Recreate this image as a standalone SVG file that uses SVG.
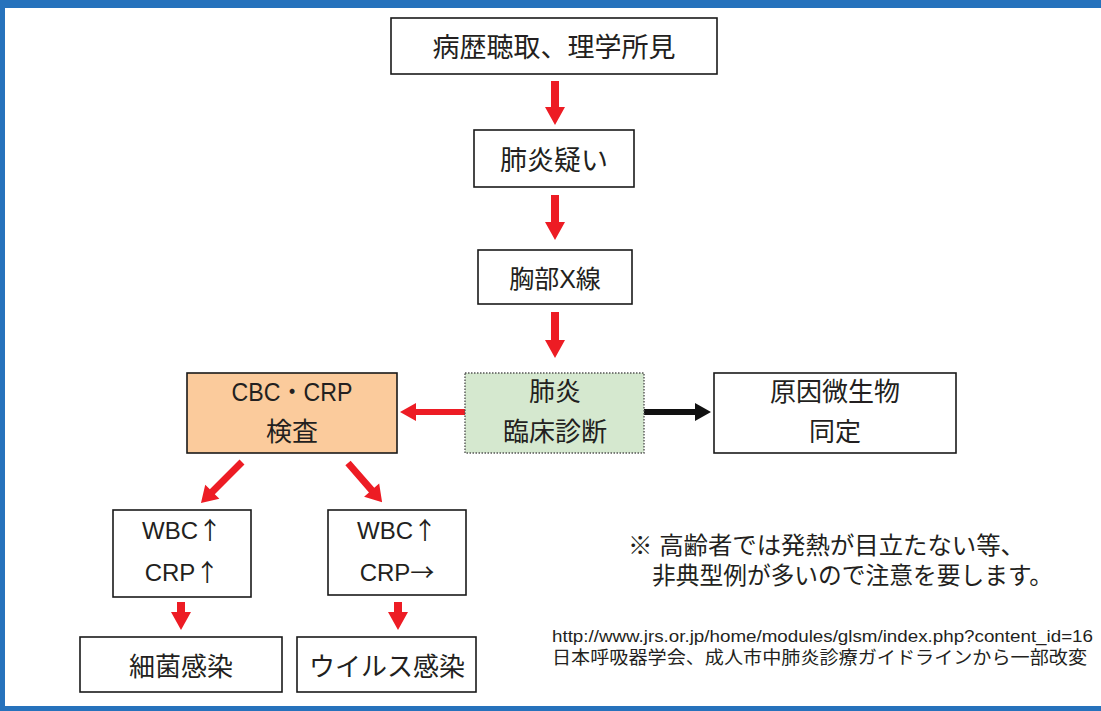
<svg xmlns="http://www.w3.org/2000/svg" width="1101" height="711" viewBox="0 0 1101 711">
<defs>
<style>
.box{fill:#fff;stroke:#1a1a1a;stroke-width:1.6}
.t{font-family:"Liberation Sans","Noto Sans CJK JP",sans-serif;fill:#231f20;text-anchor:middle}
.s{text-anchor:start}
.cjk{font-family:"Noto Sans CJK JP",sans-serif}
.red{fill:#ed1c24}
.blk{fill:#111}
</style>
</defs>
<rect x="0" y="0" width="1101" height="711" fill="#fff"/>
<g id="frame" fill="#2672bc">
<rect x="0" y="0" width="1101" height="8"/>
<rect x="0" y="0" width="5" height="711"/>
<rect x="0" y="706" width="1101" height="5"/>
</g>
<g id="connectors">
<polygon class="red" points="551,81 559,81 559,107 565,107 555,125 545,107 551,107"/>
<polygon class="red" points="551,195 559,195 559,222 565,222 555,240 545,222 551,222"/>
<polygon class="red" points="551,312 559,312 559,340 565,340 555,358 545,340 551,340"/>
<polygon class="red" points="466,409 466,415 416,415 416,421 400,412 416,403 416,409"/>
<polygon class="blk" points="644,409 644,415 695,415 695,421 711,412 695,403 695,409"/>
<g transform="translate(242,462) rotate(135)"><polygon class="red" points="0,-3.5 42,-3.5 42,-10 58,0 42,10 42,3.5 0,3.5"/></g>
<g transform="translate(348,463) rotate(49)"><polygon class="red" points="0,-3.5 36,-3.5 36,-10 52,0 36,10 36,3.5 0,3.5"/></g>
<polygon class="red" points="177,602 185,602 185,612 191,612 181,630 171,612 177,612"/>
<polygon class="red" points="394,602 402,602 402,612 408,612 398,630 388,612 394,612"/>
</g>
<g id="n1"><rect class="box" x="391" y="18" width="326" height="56"/><text class="t" x="554" y="57" font-size="27">病歴聴取、理学所見</text></g>
<g id="n2"><rect class="box" x="474" y="130" width="160" height="57"/><text class="t" x="554" y="170" font-size="27">肺炎疑い</text></g>
<g id="n3"><rect class="box" x="478" y="250" width="154" height="54"/><text class="t" x="555" y="288" font-size="25">胸部X線</text></g>
<g id="n4"><rect x="187" y="373" width="210" height="80" fill="#fbcb9c" stroke="#1a1a1a" stroke-width="1.6"/><text class="t" x="292" y="401" font-size="25" textLength="121" lengthAdjust="spacingAndGlyphs">CBC・CRP</text><text class="t" x="292" y="441" font-size="26">検査</text></g>
<g id="n5"><rect x="465" y="373" width="179" height="80" fill="#d5e8cf" stroke="#555" stroke-width="1.4" stroke-dasharray="1.5,1.5"/><text class="t" x="555" y="401" font-size="26">肺炎</text><text class="t" x="555" y="441" font-size="26">臨床診断</text></g>
<g id="n6"><rect class="box" x="714" y="373" width="242" height="80"/><text class="t" x="835" y="401" font-size="26">原因微生物</text><text class="t" x="835" y="441" font-size="26">同定</text></g>
<g id="n7"><rect class="box" x="113" y="510" width="138" height="87"/><text class="t" x="182" y="539" font-size="24">WBC<tspan class="cjk">↑</tspan></text><text class="t" x="182" y="581" font-size="24">CRP<tspan class="cjk">↑</tspan></text></g>
<g id="n8"><rect class="box" x="328" y="510" width="138" height="85"/><text class="t" x="397" y="539" font-size="24">WBC<tspan class="cjk">↑</tspan></text><text class="t" x="397" y="581" font-size="24">CRP<tspan class="cjk">→</tspan></text></g>
<g id="n9"><rect class="box" x="80" y="637" width="202" height="55"/><text class="t" x="181" y="676" font-size="26">細菌感染</text></g>
<g id="n10"><rect class="box" x="297" y="637" width="179" height="55"/><text class="t" x="387" y="676" font-size="26">ウイルス感染</text></g>
<g id="note">
<text class="t s" x="628" y="554" font-size="24" textLength="397" lengthAdjust="spacingAndGlyphs">※ 高齢者では発熱が目立たない等、</text>
<text class="t s" x="652" y="584" font-size="24" textLength="401" lengthAdjust="spacingAndGlyphs">非典型例が多いので注意を要します。</text>
<text class="t s" x="552" y="642" font-size="16" textLength="541" lengthAdjust="spacingAndGlyphs">http://www.jrs.or.jp/home/modules/glsm/index.php?content_id=16</text>
<text class="t s" x="552" y="664" font-size="18" textLength="535" lengthAdjust="spacingAndGlyphs">日本呼吸器学会、成人市中肺炎診療ガイドラインから一部改変</text>
</g>
</svg>
